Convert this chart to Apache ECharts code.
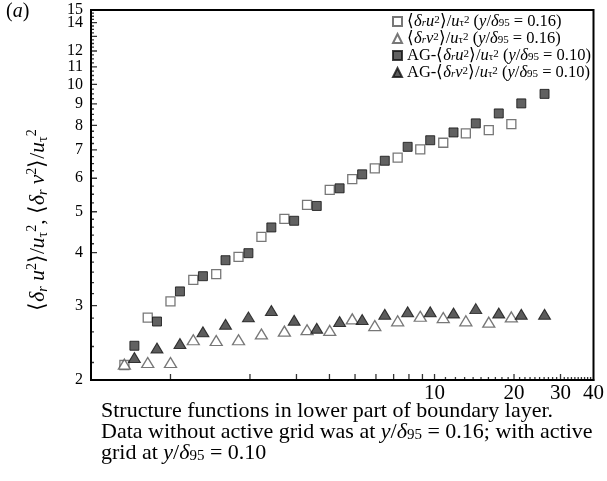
<!DOCTYPE html>
<html><head><meta charset="utf-8">
<script src="https://cdn.jsdelivr.net/npm/echarts@6/dist/echarts.min.js"></script>
<style>html,body{margin:0;padding:0;background:#fff}#c{width:607px;height:481px}</style>
</head><body><div id="c"></div>
<script>
// ---- data ----
const xOpen = [0.669,0.82,1.0,1.22,1.49,1.81,2.21,2.70,3.29,4.01,4.88,5.94,7.25,8.83,10.79,13.14,16.05,19.54];
const uOpen = [2.17,2.81,3.07,3.45,3.56,3.91,4.36,4.81,5.19,5.63,5.97,6.33,6.71,7.02,7.28,7.66,7.80,8.06];
const vOpen = [2.18,2.20,2.20,2.49,2.48,2.49,2.57,2.61,2.63,2.62,2.79,2.69,2.76,2.83,2.81,2.76,2.74,2.82];
const xAG = [0.730,0.889,1.086,1.327,1.616,1.973,2.41,2.94,3.58,4.37,5.32,6.48,7.91,9.63,11.80,14.33,17.51,21.31,26.1];
const uAG = [2.41,2.75,3.24,3.52,3.84,3.99,4.59,4.76,5.16,5.68,6.13,6.60,7.12,7.38,7.70,8.09,8.54,9.02,9.50];
const vAG = [2.26,2.38,2.44,2.60,2.71,2.82,2.92,2.77,2.65,2.75,2.78,2.86,2.90,2.90,2.88,2.95,2.88,2.86,2.86];

const yTickLabels = [2,3,4,5,6,7,8,9,10,11,12,13,14];
const yTopLabel = [15];
const xTickLabels = [10,20,30,40];
const xMajorTicks = [1,2,3,4,5,6,7,8,9,10,20,30];
const xMinorTicks = [11,12,13,14,15,16,17,18,19,21,22,23,24,25,26,27,28,29,31,32,33,34,35,36,37,38,39];
const yMajorTicks = [3,4,5,6,7,8,9,10,11,12,13,14];
const yMinorTicks = [2.2,2.4,2.6,2.8,3.2,3.4,3.6,3.8,4.2,4.4,4.6,4.8,5.25,5.5,5.75,6.25,6.5,6.75,7.25,7.5,7.75,8.25,8.5,8.75,9.25,9.5,9.75,10.25,10.5,10.75,11.25,11.5,11.75,12.25,12.5,12.75,13.25,13.5,13.75,14.25,14.5,14.75];

const X_MIN = 0.5, X_MAX = 40, Y_MIN = 2, Y_MAX = 15;
const FONT = '"Liberation Serif","Times New Roman",serif';

function makeRich(fs, lh) {
  const ss = Math.round(fs * 0.66);
  const base = {fontFamily: FONT, color: '#000', fill: '#000'};
  return {
    n: Object.assign({fontSize: fs, lineHeight: lh}, base),
    i: Object.assign({fontSize: fs, lineHeight: lh, fontStyle: 'italic'}, base),
    sup: Object.assign({fontSize: ss, lineHeight: ss + 1, verticalAlign: 'top'}, base),
    sub: Object.assign({fontSize: ss, lineHeight: ss + 1, verticalAlign: 'bottom'}, base),
    subi: Object.assign({fontSize: ss, lineHeight: ss + 1, verticalAlign: 'bottom', fontStyle: 'italic'}, base)
  };
}
function R(parts) { return parts.map(p => '{' + p[0] + '|' + p[1] + '}').join(''); }

function structU(pre, comp, pos) {
  return R([].concat(pre ? [['n', pre]] : [], [
    ['n','⟨'],['i','δ'],['subi','r'],['i', comp],['sup','2'],['n','⟩/'],['i','u'],['sub','τ'],['sup','2'],
    ['n',' ('],['i','y'],['n','/'],['i','δ'],['sub','95'],['n',' = ' + pos + ')']
  ]));
}
const legendNames = ['u16','v16','u10','v10'];
const legendText = {
  u16: structU('', 'u', '0.16'),
  v16: structU('', 'v', '0.16'),
  u10: structU('AG-', 'u', '0.10'),
  v10: structU('AG-', 'v', '0.10')
};

const yTitle = R([['n','⟨'],['i','δ'],['subi','r'],['n',' '],['i','u'],['sup','2'],['n','⟩/'],['i','u'],['sub','τ'],['sup','2'],['n',', '],
  ['n','⟨'],['i','δ'],['subi','r'],['n',' '],['i','v'],['sup','2'],['n','⟩/'],['i','u'],['sub','τ'],['sup','2']]);

const caption = R([['n','Structure functions in lower part of boundary layer.']]) + '\n' +
  R([['n','Data without active grid was at '],['i','y'],['n','/'],['i','δ'],['sub','95'],['n',' = 0.16; with active']]) + '\n' +
  R([['n','grid at '],['i','y'],['n','/'],['i','δ'],['sub','95'],['n',' = 0.10']]);

function pairs(xs, ys) { return xs.map((x, k) => [x, ys[k]]); }

// tick marks drawn through the axes' own log scales; the symbol path fills only the
// inner half of its box, so each tick points into the plot from the axis line.
const TICK_UP = 'path://M0,0 L1,0 L1,1 L0,1 Z M0,2 L1,2 Z';
const TICK_RIGHT = 'path://M1,0 L2,0 L2,1 L1,1 Z M0,0 L0,1 Z';
function xTickSeries(name, vals, len) {
  return {name: name, type: 'scatter', clip: false,
    data: vals.map(v => [v, Y_MIN]), symbol: TICK_UP, symbolKeepAspect: false, symbolSize: [1.3, len * 2],
    itemStyle: {color: '#000'}};
}
function yTickSeries(name, vals, len) {
  return {name: name, type: 'scatter', clip: false,
    data: vals.map(v => [X_MIN, v]), symbol: TICK_RIGHT, symbolKeepAspect: false, symbolSize: [len * 2, 1.3],
    itemStyle: {color: '#000'}};
}

const labelBase = {show: true, showMinLabel: true, showMaxLabel: true, formatter: v => String(Math.round(v)), fontFamily: FONT, color: '#000'};

const chart = echarts.init(document.getElementById('c'), null, {renderer: 'canvas'});
chart.setOption({
  backgroundColor: '#fff',
  animation: false,
  grid: {left: 91, top: 10, width: 503, height: 370, show: true, borderColor: '#000', borderWidth: 2, backgroundColor: 'transparent'},
  xAxis: [
    {type: 'log', position: 'bottom', min: X_MIN, max: X_MAX,
     axisLine: {show: true, lineStyle: {color: '#000', width: 2}},
     axisTick: {show: false},
     axisLabel: Object.assign({customValues: xTickLabels, fontSize: 21, margin: 3}, labelBase),
     splitLine: {show: false}}
  ],
  yAxis: [
    {type: 'log', position: 'left', min: Y_MIN, max: Y_MAX,
     axisLine: {show: true, lineStyle: {color: '#000', width: 2}},
     axisTick: {show: false},
     axisLabel: Object.assign({customValues: yTickLabels, fontSize: 16, margin: 8}, labelBase),
     splitLine: {show: false}},
    {type: 'log', position: 'left', min: Y_MIN, max: Y_MAX,
     axisLine: {show: false}, axisTick: {show: false},
     axisLabel: Object.assign({customValues: yTopLabel, fontSize: 16, margin: 8}, labelBase),
     splitLine: {show: false}}
  ],
  legend: {
    orient: 'vertical', left: 387, top: 8, itemWidth: 9, itemHeight: 9, itemGap: 0,
    data: legendNames,
    formatter: name => legendText[name],
    textStyle: {fontFamily: FONT, fontSize: 16.5, color: '#000', rich: makeRich(16.5, 13.5)}
  },
  series: [
    xTickSeries('tickXMajor', xMajorTicks, 6), xTickSeries('tickXMinor', xMinorTicks, 3),
    yTickSeries('tickYMajor', yMajorTicks, 6), yTickSeries('tickYMinor', yMinorTicks, 3),
    {name: 'u16', type: 'scatter', data: pairs(xOpen, uOpen), symbol: 'rect', symbolSize: 9, z: 3,
     itemStyle: {color: '#fff', borderColor: '#555', borderWidth: 1.3}},
    {name: 'v16', type: 'scatter', data: pairs(xOpen, vOpen), symbol: 'triangle', symbolSize: [12, 10], z: 3,
     itemStyle: {color: '#fff', borderColor: '#555', borderWidth: 1.3}},
    {name: 'u10', type: 'scatter', data: pairs(xAG, uAG), symbol: 'rect', symbolSize: 9, z: 3,
     itemStyle: {color: '#3a3a3a', borderColor: '#111', borderWidth: 1}},
    {name: 'v10', type: 'scatter', data: pairs(xAG, vAG), symbol: 'triangle', symbolSize: [12, 10], z: 3,
     itemStyle: {color: '#333', borderColor: '#111', borderWidth: 1}}
  ],
  graphic: [
    {type: 'text', left: 6, top: 2, style: {text: R([['n','('],['i','a'],['n',')']]), rich: makeRich(20, 20), fill: '#000'}},
    {type: 'text', x: 38, y: 220, rotation: Math.PI / 2,
     style: {text: yTitle, rich: makeRich(21.5, 25), align: 'center', verticalAlign: 'middle', fill: '#000'}},
    {type: 'text', left: 101, top: 400,
     style: {text: caption, rich: makeRich(22, 21), fill: '#000'}}
  ]
});
</script></body></html>
